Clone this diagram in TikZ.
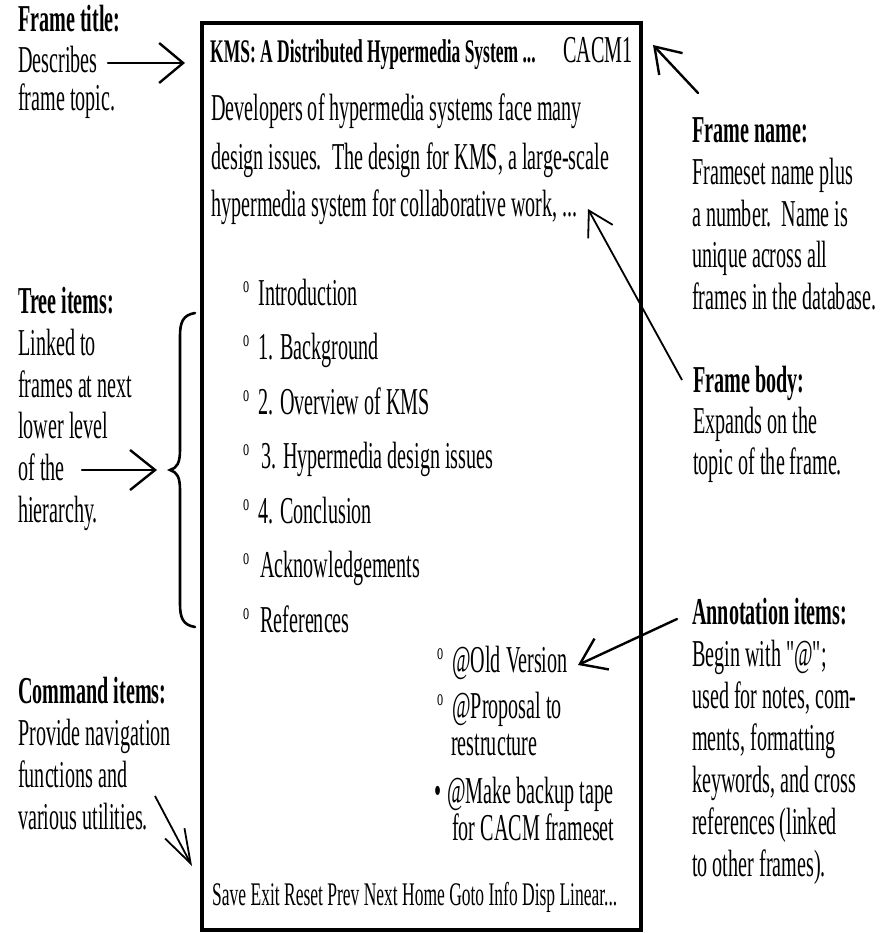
\documentclass[tikz,border=0pt]{standalone}
\usepackage{fontspec}
\setmainfont[FakeStretch=0.53]{Liberation Serif}
\newfontface\qfont[FakeStretch=0.53,Ligatures=TeXOff]{Liberation Serif}
\usetikzlibrary{arrows.meta}
\newcommand\fbody{\fontsize{38}{46}\selectfont}
\newcommand\fsmall{\fontsize{33}{40}\selectfont}
\newcommand\ob{\raisebox{13pt}{\fontsize{23}{23}\selectfont o}\hspace{9pt}}
\newcommand\sq{{\qfont\fbody"}}
\begin{document}
\begin{tikzpicture}[x=1pt,y=-1pt,
  txt/.style={inner sep=0pt, anchor=base west, font=\fbody},
  lbl/.style={txt, font=\fbody\bfseries},
  arr/.style={line width=2.4pt, line cap=round, -{Straight Barb[length=24pt,width=36pt,line width=2.4pt]}},
  framebox/.style={line width=3.2pt},
  bracestyle/.style={line width=2.6pt, line cap=round}]
\useasboundingbox (0,0) rectangle (889,933);

% frame
\draw[framebox] (202,23) rectangle (641,930);
\coordinate (ftopL) at (202,23);
\coordinate (ftopR) at (641,23);
\draw[line width=4.6pt] (ftopL) -- (ftopR);

% title line
\node[txt, font=\fsmall\bfseries] (title) at (210,63) {KMS: A Distributed Hypermedia System ...};
\node[txt, anchor=base east] (cacm) at (633,63) {CACM1};

% body
\node[txt] (b1) at (211,121) {Developers of hypermedia systems face many};
\node[txt] (b2) at (211,170) {design issues.\ \ The design for KMS, a large-scale};
\node[txt] (b3) at (211,217) {hypermedia system for collaborative work, ...};

% tree items
\node[txt] (t1) at (243,305) {\ob Introduction};
\node[txt] (t2) at (243,359.5) {\ob 1. Background};
\node[txt] (t3) at (243,414) {\ob 2. Overview of KMS};
\node[txt] (t4) at (243,468.5) {\ob \hspace{3pt}3. Hypermedia design issues};
\node[txt] (t5) at (243,523) {\ob 4. Conclusion};
\node[txt] (t6) at (243,577.5) {\ob \hspace{2pt}Acknowledgements};
\node[txt] (t7) at (243,632) {\ob \hspace{2pt}References};

% annotation items in frame
\node[txt] (a1) at (437,672) {\ob @Old Version};
\node[txt] (a2) at (437,718) {\ob @Proposal to};
\node[txt] (a3) at (451,755) {restructure};
\node[txt] (a4) at (434,803) {\textbullet\hspace{6pt}@Make backup tape};
\node[txt] (a5) at (452,840) {for CACM frameset};

% command line
\node[txt, font=\fsmall] (cmd) at (212,905) {Save Exit Reset Prev Next Home Goto Info Disp Linear...};

% left: frame title
\node[lbl] (ftl) at (18,32) {Frame title:};
\node[txt] (ft1) at (18,73) {Describes};
\node[txt] (ft2) at (18,111) {frame topic.};

% left: tree items
\node[lbl] (til) at (18,313) {Tree items:};
\node[txt] (ti1) at (18,355) {Linked to};
\node[txt] (ti2) at (18,397) {frames at next};
\node[txt] (ti3) at (18,438) {lower level};
\node[txt] (ti4) at (18,480) {of the};
\node[txt] (ti5) at (18,522) {hierarchy.};

% left: command items
\node[lbl] (cil) at (18,703) {Command items:};
\node[txt] (ci1) at (18,745) {Provide navigation};
\node[txt] (ci2) at (18,787) {functions and};
\node[txt] (ci3) at (18,829) {various utilities.};

% right: frame name
\node[lbl] (fnl) at (692,143) {Frame name:};
\node[txt] (fn1) at (692,185) {Frameset name plus};
\node[txt] (fn2) at (692,226) {a number.\ \ Name is};
\node[txt] (fn3) at (692,267) {unique across all};
\node[txt] (fn4) at (692,309) {frames in the database.};

% right: frame body
\node[lbl] (fbl) at (693,392) {Frame body:};
\node[txt] (fb1) at (693,433) {Expands on the};
\node[txt] (fb2) at (693,474) {topic of the frame.};

% right: annotation items
\node[lbl] (anl) at (692,624) {Annotation items:};
\node[txt] (an1) at (692,666) {Begin with \sq@\sq;};
\node[txt] (an2) at (692,708) {used for notes, com-};
\node[txt] (an3) at (692,750) {ments, formatting};
\node[txt] (an4) at (692,792) {keywords, and cross};
\node[txt] (an5) at (692,834) {references (linked};
\node[txt] (an6) at (692,876) {to other frames).};

% connector end points
\coordinate (ftS) at (108,63);
\coordinate (ftE) at (185,63);
\coordinate (fnS) at (698,93);
\coordinate (fnE) at (653,45);
\coordinate (fbS) at (682,380);
\coordinate (fbE) at (588,209);
\coordinate (tiS) at (82,470);
\coordinate (tiE) at (157,470);
\coordinate (anS) at (677,619);
\coordinate (anE) at (578,665);
\coordinate (ciS) at (155,796);
\coordinate (ciE) at (192,866);

\draw[arr, -{Straight Barb[length=24pt,width=40pt,line width=2.4pt]}] (ftS) -- (ftE);
\draw[arr, -{Straight Barb[length=24pt,width=32pt,line width=2.4pt]}] (fnS) -- (fnE);
\draw[line width=1.8pt, -{Straight Barb[length=24pt,width=28pt,line width=1.8pt]}] (fbS) -- (fbE);
\draw[arr, -{Straight Barb[length=25pt,width=40pt,line width=2.4pt]}] (tiS) -- (tiE);
\draw[arr, -{Straight Barb[length=24pt,width=34pt,line width=2.4pt]}] (anS) -- (anE);
\draw[line width=1.8pt, -{Straight Barb[length=34pt,width=22pt,line width=1.8pt]}] (ciS) -- (ciE);

% brace
\coordinate (brT) at (195,313);
\coordinate (brM) at (170,470);
\coordinate (brB) at (195,627);
\draw[bracestyle] (brT) .. controls (183,315) and (180,322) .. (180,336) -- (180,450)
  .. controls (180,463) and (177,468) .. (brM)
  .. controls (177,472) and (180,477) .. (180,490) -- (180,604)
  .. controls (180,618) and (183,625) .. (brB);
\end{tikzpicture}
\end{document}
